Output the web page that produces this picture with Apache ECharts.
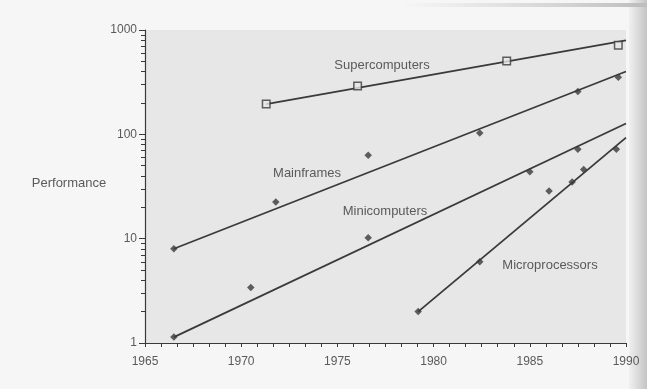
<!DOCTYPE html>
<html>
<head>
<meta charset="utf-8">
<script src="https://cdn.jsdelivr.net/npm/echarts@6/dist/echarts.min.js"></script>
<style>
html,body{margin:0;padding:0;background:#f6f6f6;}
#chart{width:647px;height:389px;}
</style>
</head>
<body>
<div id="chart"></div>
<script>
// ---- data ----
const superYears = [1971.3, 1976.05, 1983.8, 1989.6];
const superVals  = [195, 291, 505, 715];
const superLineYears = [1971.3, 1990];
const superLineVals  = [195, 795];

const mainYears = [1966.5, 1971.8, 1976.6, 1982.4, 1987.5, 1989.6];
const mainVals  = [8, 22.5, 63, 103, 258, 352];
const mainLineYears = [1966.5, 1990];
const mainLineVals  = [8, 400];

const miniYears = [1966.5, 1970.5, 1976.6, 1985.0, 1987.5];
const miniVals  = [1.14, 3.4, 10.2, 43.7, 72];
const miniLineYears = [1966.5, 1990];
const miniLineVals  = [1.14, 127];

const microYears = [1979.2, 1982.4, 1986.0, 1987.2, 1987.8, 1989.5];
const microVals  = [2.0, 6.0, 28.7, 35, 46, 72];
const microLineYears = [1979.2, 1990];
const microLineVals  = [2.0, 93];

const yMajorTicks = [1, 10, 100, 1000];
const yMinorTicks = [2,3,4,5,6,7,8,9,20,30,40,50,60,70,80,90,200,300,400,500,600,700,800,900];
const seriesNames = ['Supercomputers', 'Mainframes', 'Minicomputers', 'Microprocessors'];
const yAxisTitle = 'Performance';

const pairs = (xs, ys) => xs.map((x, i) => [x, ys[i]]);

const ink = '#3a3a3a';
const txt = '#5a5a5a';
const font = 'Liberation Sans, Arial, sans-serif';
const lblFont = '13px ' + font;

const chart = echarts.init(document.getElementById('chart'));

function lineSeries(xs, ys) {
  return { type: 'line', data: pairs(xs, ys), symbol: 'none', silent: true,
    lineStyle: { color: ink, width: 1.8 }, z: 2, animation: false };
}
function dotSeries(xs, ys, name) {
  return { type: 'scatter', name: name, data: pairs(xs, ys), symbol: 'diamond', symbolSize: 7.5,
    itemStyle: { color: ink }, z: 3, animation: false };
}

chart.setOption({
  backgroundColor: '#f6f6f6',
  animation: false,
  grid: { left: 145, right: 21, top: 30, bottom: 46, show: true, backgroundColor: '#e7e7e7', borderWidth: 0 },
  xAxis: {
    type: 'value', min: 1965, max: 1990, interval: 5,
    axisLine: { lineStyle: { color: ink, width: 1.2 } },
    axisTick: { show: true, length: 4, lineStyle: { color: ink } },
    minorTick: { show: true, splitNumber: 6, length: 4, lineStyle: { color: ink } },
    axisLabel: { color: txt, fontSize: 12, fontFamily: font, margin: 13, formatter: v => String(v) },
    splitLine: { show: false }
  },
  yAxis: [
    {
      type: 'log', logBase: 10, min: 1, max: 1000,
      axisLine: { show: true, lineStyle: { color: ink, width: 1.2 } },
      axisTick: { show: true, length: 6, customValues: yMajorTicks, lineStyle: { color: ink } },
      axisLabel: { color: txt, fontSize: 12, fontFamily: font, margin: 8, customValues: yMajorTicks, formatter: v => String(v) },
      splitLine: { show: false }
    },
    {
      type: 'log', logBase: 10, min: 1, max: 1000, position: 'left',
      axisLine: { show: false },
      axisTick: { show: true, length: 4, customValues: yMinorTicks, lineStyle: { color: ink } },
      axisLabel: { show: false },
      splitLine: { show: false }
    }
  ],
  series: [
    lineSeries(superLineYears, superLineVals),
    { type: 'scatter', name: seriesNames[0], data: pairs(superYears, superVals), symbol: 'rect', symbolSize: 7.5,
      itemStyle: { color: '#e7e7e7', borderColor: ink, borderWidth: 1.5 }, z: 3 },
    lineSeries(mainLineYears, mainLineVals),
    dotSeries(mainYears, mainVals, seriesNames[1]),
    lineSeries(miniLineYears, miniLineVals),
    dotSeries(miniYears, miniVals, seriesNames[2]),
    lineSeries(microLineYears, microLineVals),
    dotSeries(microYears, microVals, seriesNames[3])
  ],
  graphic: [
    { type: 'rect', shape: { x: 629, y: 0, width: 18, height: 389 }, silent: true, z: -1,
      style: { fill: new echarts.graphic.LinearGradient(0, 0, 1, 0, [{ offset: 0, color: '#f0f0f0' }, { offset: 1, color: '#c4c4c4' }]) } },
    { type: 'rect', shape: { x: 400, y: 3, width: 247, height: 4 }, silent: true, z: -1,
      style: { fill: new echarts.graphic.LinearGradient(0, 0, 1, 0, [{ offset: 0, color: 'rgba(200,200,200,0)' }, { offset: 1, color: '#bdbdbd' }]) } },
    { type: 'text', x: 382, y: 65, style: { text: seriesNames[0], fill: txt, font: lblFont, textAlign: 'center', textVerticalAlign: 'middle' } },
    { type: 'text', x: 307, y: 173, style: { text: seriesNames[1], fill: txt, font: lblFont, textAlign: 'center', textVerticalAlign: 'middle' } },
    { type: 'text', x: 385, y: 211, style: { text: seriesNames[2], fill: txt, font: lblFont, textAlign: 'center', textVerticalAlign: 'middle' } },
    { type: 'text', x: 550, y: 265, style: { text: seriesNames[3], fill: txt, font: lblFont, textAlign: 'center', textVerticalAlign: 'middle' } },
    { type: 'text', x: 69, y: 183, style: { text: yAxisTitle, fill: txt, font: lblFont, textAlign: 'center', textVerticalAlign: 'middle' } }
  ]
});
</script>
</body>
</html>
